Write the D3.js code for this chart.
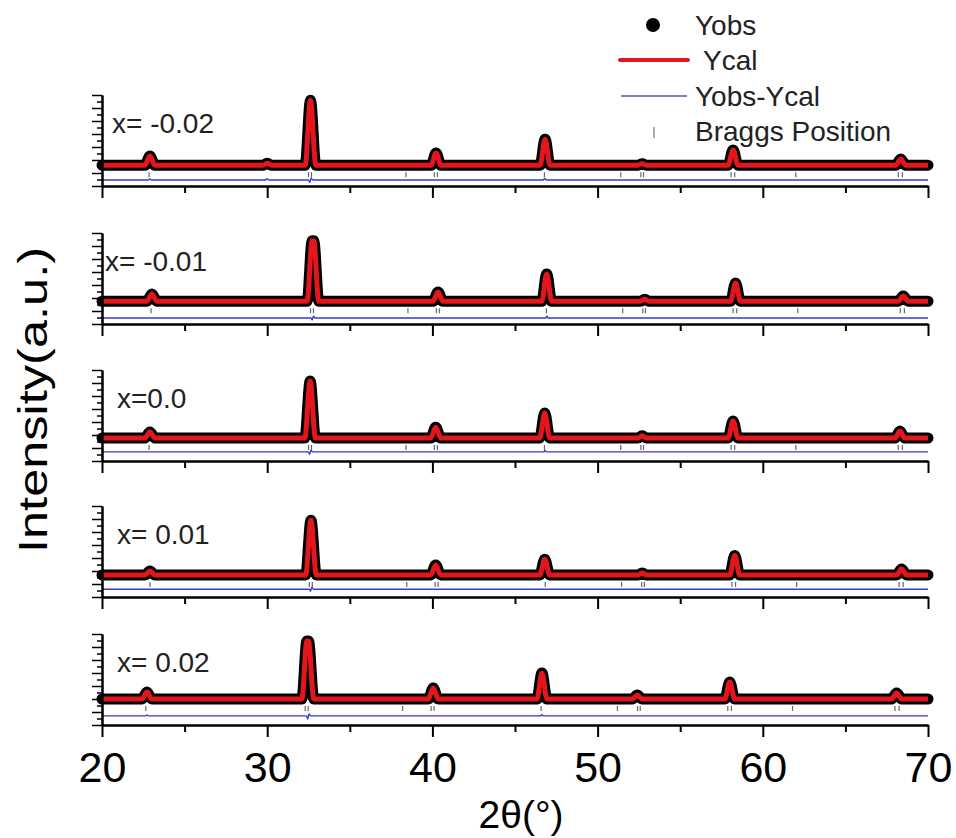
<!DOCTYPE html>
<html>
<head>
<meta charset="utf-8">
<script src="https://cdn.jsdelivr.net/npm/d3@7"></script>
<style>
  html, body { margin: 0; padding: 0; background: #fff; }
  svg { display: block; font-family: "Liberation Sans", Arial, sans-serif; }
</style>
</head>
<body>
<svg id="chart" width="956" height="838"></svg>
<script>
/* ============================================================
   Rietveld refinement – five stacked XRD panels
   ============================================================ */

const LABELS = ['x= -0.02', 'x= -0.01', 'x=0.0', 'x= 0.01', 'x= 0.02'];

// Yobs ~ Ycal at this scale: [2theta, intensity (a.u.)]
const YCAL_1 = [[20,16],[22.6,16],[22.9,23],[23.2,16],[29.75,16],[30.0,17.5],[30.25,16],[32.3,16],[32.62,66],[32.94,16],[39.92,16],[40.22,25.4],[40.52,16],[46.52,16],[46.82,36],[47.12,16],[52.45,16],[52.7,17.2],[52.95,16],[57.9,16],[58.2,27.7],[58.5,16],[68.05,16],[68.35,20.8],[68.65,16],[70,16]];
const YCAL_2 = [[20,17.5],[22.72,17.5],[23.02,23],[23.32,17.5],[32.42,17.5],[32.72,64],[32.82,64],[33.12,17.5],[40.04,17.5],[40.34,24.6],[40.64,17.5],[46.62,17.5],[46.92,38.5],[47.22,17.5],[52.6,17.5],[52.85,19],[53.1,17.5],[58.05,17.5],[58.35,31.5],[58.65,17.5],[68.2,17.5],[68.5,21.5],[68.8,17.5],[70,17.5]];
const YCAL_3 = [[20,17.7],[22.6,17.7],[22.9,22.3],[23.2,17.7],[32.28,17.7],[32.6,61.5],[32.92,17.7],[39.9,17.7],[40.2,26],[40.5,17.7],[46.5,17.7],[46.8,37],[47.1,17.7],[52.45,17.7],[52.7,19.5],[52.95,17.7],[57.9,17.7],[58.2,30.8],[58.5,17.7],[68.0,17.7],[68.3,23],[68.6,17.7],[70,17.7]];
const YCAL_4 = [[20,17],[22.6,17],[22.9,20],[23.2,17],[32.33,17],[32.65,59],[32.97,17],[39.9,17],[40.2,24.6],[40.5,17],[46.5,17],[46.8,29],[47.1,17],[52.45,17],[52.7,18.5],[52.95,17],[58.0,17],[58.3,32],[58.6,17],[68.1,17],[68.4,21.5],[68.7,17],[70,17]];
const YCAL_5 = [[20,20],[22.42,20],[22.72,25.4],[23.02,20],[32.1,20],[32.4,64.6],[32.5,64.6],[32.82,20],[39.75,20],[40.05,28.5],[40.35,20],[46.33,20],[46.63,40],[46.93,20],[52.1,20],[52.4,23],[52.7,20],[57.7,20],[58.0,33],[58.3,20],[67.8,20],[68.1,24.6],[68.4,20],[70,20]];

// Yobs - Ycal (offset below the pattern)
const DIFF_1 = [[20,4.6],[22.8,4.6],[22.9,5.4],[23.0,4.6],[29.9,4.6],[30.0,5.6],[30.1,4.6],[32.5,4.6],[32.58,2.8],[32.66,6.2],[32.76,4.6],[46.7,4.6],[46.8,5.8],[46.9,4.6],[70,4.6]];
const DIFF_2 = [[20,4.6],[32.65,4.6],[32.72,3],[32.8,6],[32.9,4.6],[46.85,4.6],[46.93,6],[47.0,4.6],[70,4.6]];
const DIFF_3 = [[20,7],[32.5,7],[32.57,5.2],[32.65,8.3],[32.75,7],[46.75,7],[46.82,8.2],[46.9,7],[70,7]];
const DIFF_4 = [[20,6],[32.55,6],[32.62,4.4],[32.7,7.3],[32.8,6],[70,6]];
const DIFF_5 = [[20,7],[22.65,7],[22.72,7.8],[22.8,7],[32.38,7],[32.45,4.5],[32.53,8.5],[32.62,7],[46.55,7],[46.63,8],[46.7,7],[70,7]];

const BASELINE = [16, 17.5, 17.7, 17, 20];
const BRAGG = [22.85, 32.5, 32.68, 38.4, 40.12, 40.3, 46.78, 51.4, 52.62, 52.78, 58.08, 58.3, 62.0, 68.2, 68.45];
const BRAGG_SHIFT = [0, 0.12, 0, 0.05, -0.2];

const X_MAJOR = [20, 30, 40, 50, 60, 70];
const X_MINOR = [25, 35, 45, 55, 65];

const PANELS = [
  { label: LABELS[0], ycal: YCAL_1, diff: DIFF_1 },
  { label: LABELS[1], ycal: YCAL_2, diff: DIFF_2 },
  { label: LABELS[2], ycal: YCAL_3, diff: DIFF_3 },
  { label: LABELS[3], ycal: YCAL_4, diff: DIFF_4 },
  { label: LABELS[4], ycal: YCAL_5, diff: DIFF_5 }
];

// layout
const PANEL_TOP = [95, 233, 370, 506, 634];
const PANEL_H = 91;
const RED = '#e3161b';
const BLUE = '#3a3ac8';

const svg = d3.select('#chart');
const x = d3.scaleLinear().domain([20, 70]).range([102, 928]);

PANELS.forEach((p, i) => {
  const top = PANEL_TOP[i];
  const y = d3.scaleLinear().domain([0, 70]).range([top + PANEL_H, top]);
  const g = svg.append('g');

  const line = d3.line()
    .x(d => x(d[0])).y(d => y(d[1]))
    .curve(d3.curveMonotoneX);

  // Bragg positions
  const by = y(BASELINE[i]);
  g.selectAll('.bragg').data(BRAGG).enter().append('line')
    .attr('x1', d => x(d + BRAGG_SHIFT[i])).attr('x2', d => x(d + BRAGG_SHIFT[i]))
    .attr('y1', by + 7).attr('y2', by + 12)
    .attr('stroke', '#666').attr('stroke-width', 1.2);

  // difference
  g.append('path').attr('d', line(p.diff))
    .attr('fill', 'none').attr('stroke', BLUE).attr('stroke-width', 1.4);

  // Yobs (thick black) + Ycal (red)
  g.append('path').attr('d', line(p.ycal))
    .attr('fill', 'none').attr('stroke', '#000').attr('stroke-width', 11)
    .attr('stroke-linejoin', 'round').attr('stroke-linecap', 'round');
  g.append('path').attr('d', line(p.ycal))
    .attr('fill', 'none').attr('stroke', RED).attr('stroke-width', 5)
    .attr('stroke-linejoin', 'round');

  // left axis: minor + major ticks
  const yMinor = g.append('g').attr('transform', `translate(${x(20)},0)`)
    .call(d3.axisLeft(y).tickValues(d3.range(5, 70, 10)).tickSize(5).tickSizeOuter(0).tickFormat(''));
  const yMajor = g.append('g').attr('transform', `translate(${x(20)},0)`)
    .call(d3.axisLeft(y).tickValues(d3.range(0, 71, 10)).tickSize(10).tickSizeOuter(0).tickFormat(''));
  [yMinor, yMajor].forEach(a => {
    a.selectAll('.tick line').attr('stroke-width', 1.5);
    a.select('.domain').attr('stroke-width', 2);
  });

  // bottom axis
  const xb = top + PANEL_H;
  const xMin = g.append('g').attr('transform', `translate(0,${xb})`)
    .call(d3.axisBottom(x).tickValues(X_MINOR).tickSize(7).tickSizeOuter(0).tickFormat(''));
  const xMaj = g.append('g').attr('transform', `translate(0,${xb})`)
    .call(d3.axisBottom(x).tickValues(X_MAJOR).tickSize(12).tickSizeOuter(0)
      .tickFormat(i === PANELS.length - 1 ? d3.format('d') : ''));
  [xMin, xMaj].forEach(a => {
    a.selectAll('.tick line').attr('stroke-width', 2);
    a.select('.domain').attr('stroke-width', 2);
  });
  xMaj.selectAll('.tick text')
    .attr('y', 57).attr('dy', 0)
    .attr('font-size', 43).attr('fill', '#000')
    .attr('font-family', '"Liberation Sans", Arial, sans-serif');

  // panel label
  g.append('text').attr('x', i === 1 ? 105 : (i === 0 ? 112 : 117)).attr('y', top + 38)
    .attr('font-size', 28).attr('fill', '#222').text(p.label);
});

// axis titles
svg.append('text')
  .attr('transform', 'translate(47,400) rotate(-90)')
  .attr('text-anchor', 'middle')
  .attr('font-size', 40)
  .attr('textLength', 306).attr('lengthAdjust', 'spacingAndGlyphs')
  .text('Intensity(a.u.)');

svg.append('text')
  .attr('x', 521).attr('y', 828)
  .attr('text-anchor', 'middle')
  .attr('font-size', 39)
  .text('2θ(°)');

// legend
const leg = svg.append('g').attr('font-size', 28).attr('fill', '#222');
leg.append('circle').attr('cx', 653).attr('cy', 25).attr('r', 7).attr('fill', '#000');
leg.append('text').attr('x', 695).attr('y', 35).text('Yobs');
leg.append('line').attr('x1', 620).attr('x2', 688).attr('y1', 60).attr('y2', 60)
  .attr('stroke', RED).attr('stroke-width', 4).attr('stroke-linecap', 'round');
leg.append('text').attr('x', 703).attr('y', 70).text('Ycal');
leg.append('line').attr('x1', 621).attr('x2', 687).attr('y1', 96).attr('y2', 96)
  .attr('stroke', '#5555a8').attr('stroke-width', 1.6);
leg.append('text').attr('x', 695).attr('y', 106).text('Yobs-Ycal');
leg.append('line').attr('x1', 654).attr('x2', 654).attr('y1', 127).attr('y2', 138)
  .attr('stroke', '#777').attr('stroke-width', 1.2);
leg.append('text').attr('x', 695).attr('y', 141).text('Braggs Position');
</script>
</body>
</html>
